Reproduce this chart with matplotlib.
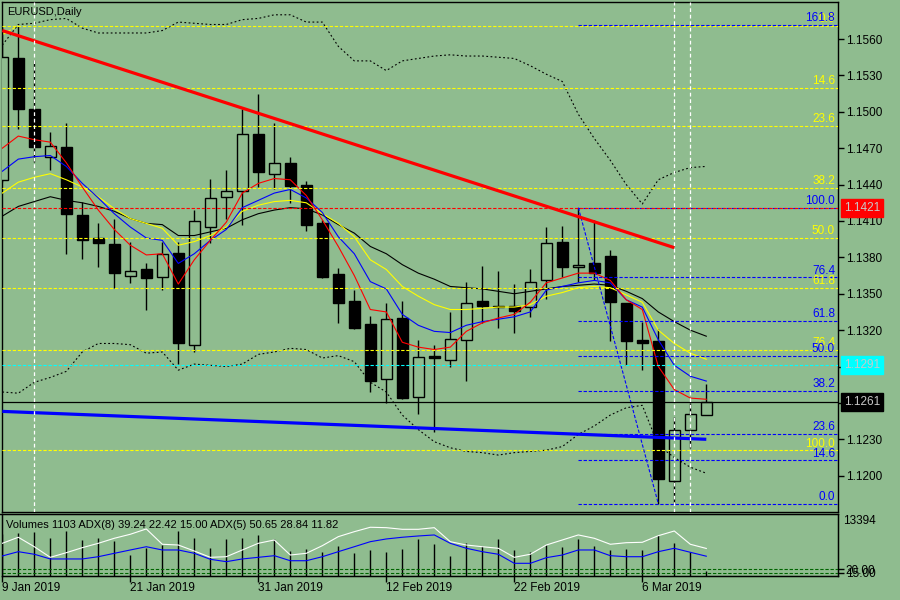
import numpy as np
import pandas as pd
import matplotlib
matplotlib.use('Agg')
import matplotlib.pyplot as plt
import matplotlib.transforms as mtrans

BG = '#8FBC8F'
plt.rcParams['font.family'] = ['Liberation Sans', 'DejaVu Sans']

# EURUSD daily, 9 Jan - 12 Mar 2019
dates = pd.bdate_range('2019-01-09', '2019-03-12')

opens = [1.1444, 1.1544, 1.1502, 1.1463, 1.1471, 1.1415, 1.1396, 1.1391, 1.1365, 1.1370,
         1.1364, 1.1384, 1.1308, 1.1405, 1.1430, 1.1435, 1.1482, 1.1449, 1.1458, 1.1440,
         1.1408, 1.1366, 1.1344, 1.1325, 1.1280, 1.1330, 1.1265, 1.1299, 1.1295, 1.1312,
         1.1344, 1.1340, 1.1340, 1.1339, 1.1361, 1.1393, 1.1372, 1.1375, 1.1381, 1.1342,
         1.1312, 1.1311, 1.1196, 1.1238, 1.1250]
highs = [1.1570, 1.1571, 1.1543, 1.1483, 1.1491, 1.1426, 1.1408, 1.1412, 1.1393, 1.1375,
         1.1393, 1.1393, 1.1419, 1.1445, 1.1452, 1.1502, 1.1515, 1.1491, 1.1463, 1.1443,
         1.1411, 1.1371, 1.1353, 1.1332, 1.1342, 1.1344, 1.1312, 1.1308, 1.1335, 1.1360,
         1.1373, 1.1369, 1.1358, 1.1370, 1.1405, 1.1406, 1.1421, 1.1411, 1.1386, 1.1342,
         1.1327, 1.1321, 1.1248, 1.1260, 1.1276]
lows = [1.1442, 1.1486, 1.1459, 1.1452, 1.1383, 1.1379, 1.1372, 1.1355, 1.1359, 1.1337,
        1.1353, 1.1292, 1.1302, 1.1392, 1.1412, 1.1407, 1.1438, 1.1436, 1.1425, 1.1402,
        1.1363, 1.1326, 1.1321, 1.1269, 1.1260, 1.1263, 1.1251, 1.1236, 1.1290, 1.1278,
        1.1326, 1.1322, 1.1318, 1.1331, 1.1346, 1.1364, 1.1360, 1.1361, 1.1311, 1.1291,
        1.1287, 1.1177, 1.1177, 1.1223, 1.1250]
closes = [1.1545, 1.1502, 1.1471, 1.1472, 1.1416, 1.1394, 1.1392, 1.1367, 1.1369, 1.1363,
          1.1383, 1.1309, 1.1410, 1.1429, 1.1435, 1.1482, 1.1450, 1.1458, 1.1439, 1.1407,
          1.1364, 1.1342, 1.1322, 1.1278, 1.1329, 1.1264, 1.1298, 1.1297, 1.1313, 1.1342,
          1.1340, 1.1339, 1.1336, 1.1360, 1.1392, 1.1372, 1.1374, 1.1367, 1.1343, 1.1311,
          1.1309, 1.1197, 1.1238, 1.1251, 1.1261]

ma_red = [1.1470, 1.1480, 1.1477, 1.1475, 1.1458, 1.1438, 1.1419, 1.1403, 1.1390, 1.1382,
          1.1383, 1.1358, 1.1378, 1.1394, 1.1409, 1.1433, 1.1441, 1.1445, 1.1444, 1.1431,
          1.1411, 1.1389, 1.1365, 1.1337, 1.1335, 1.1310, 1.1306, 1.1304, 1.1306, 1.1319,
          1.1326, 1.1330, 1.1333, 1.1343, 1.1359, 1.1363, 1.1367, 1.1367, 1.1361, 1.1345,
          1.1337, 1.1290, 1.1271, 1.1264, 1.1263]
ma_blue = [1.1451, 1.1461, 1.1463, 1.1464, 1.1455, 1.1441, 1.1429, 1.1416, 1.1405, 1.1396,
           1.1394, 1.1375, 1.1383, 1.1394, 1.1403, 1.1421, 1.1427, 1.1433, 1.1436, 1.1429,
           1.1417, 1.1397, 1.1383, 1.1360, 1.1354, 1.1333, 1.1324, 1.1319, 1.1318, 1.1324,
           1.1327, 1.1329, 1.1331, 1.1335, 1.1353, 1.1356, 1.1359, 1.1361, 1.1359, 1.1345,
           1.1339, 1.1312, 1.1291, 1.1282, 1.1278]
ma_yellow = [1.1433, 1.1442, 1.1446, 1.1449, 1.1444, 1.1438, 1.1430, 1.1420, 1.1412, 1.1408,
             1.1404, 1.1390, 1.1393, 1.1398, 1.1405, 1.1418, 1.1423, 1.1426, 1.1427, 1.1425,
             1.1416, 1.1408, 1.1397, 1.1378, 1.1370, 1.1356, 1.1348, 1.1341, 1.1337, 1.1337,
             1.1338, 1.1339, 1.1339, 1.1341, 1.1348, 1.1351, 1.1355, 1.1356, 1.1355, 1.1349,
             1.1343, 1.1320, 1.1309, 1.1301, 1.1296]
ma_black = [1.1414, 1.1422, 1.1426, 1.1430, 1.1427, 1.1425, 1.1422, 1.1418, 1.1412, 1.1408,
            1.1407, 1.1398, 1.1398, 1.1401, 1.1404, 1.1411, 1.1416, 1.1419, 1.1421, 1.1420,
            1.1415, 1.1407, 1.1400, 1.1389, 1.1383, 1.1374, 1.1367, 1.1362, 1.1356, 1.1355,
            1.1354, 1.1352, 1.1350, 1.1352, 1.1354, 1.1356, 1.1357, 1.1358, 1.1357, 1.1352,
            1.1346, 1.1335, 1.1327, 1.1320, 1.1315]
bb_upper = [1.1555, 1.1572, 1.1573, 1.1576, 1.1577, 1.1569, 1.1565, 1.1565, 1.1565, 1.1565,
            1.1567, 1.1574, 1.1573, 1.1572, 1.1572, 1.1576, 1.1577, 1.1580, 1.1580, 1.1574,
            1.1574, 1.1554, 1.1542, 1.1542, 1.1534, 1.1542, 1.1544, 1.1546, 1.1547, 1.1546,
            1.1546, 1.1545, 1.1544, 1.1538, 1.1531, 1.1525, 1.1498, 1.1478, 1.1460, 1.1440,
            1.1424, 1.1444, 1.1450, 1.1454, 1.1455]
bb_lower = [1.1269, 1.1268, 1.1277, 1.1281, 1.1286, 1.1302, 1.1309, 1.1309, 1.1308, 1.1301,
            1.1302, 1.1287, 1.1292, 1.1291, 1.1290, 1.1292, 1.1300, 1.1302, 1.1305, 1.1304,
            1.1297, 1.1299, 1.1294, 1.1277, 1.1269, 1.1250, 1.1238, 1.1228, 1.1223, 1.1220,
            1.1219, 1.1217, 1.1219, 1.1220, 1.1221, 1.1224, 1.1234, 1.1241, 1.1250, 1.1256,
            1.1258, 1.1225, 1.1215, 1.1207, 1.1202]

volumes = [9000, 9225, 9570, 8144, 9721, 7777, 8144, 7561, 4537, 5984,
           6697, 9721, 8274, 6114, 7928, 8144, 8857, 7928, 5401, 5768,
           5250, 6481, 4904, 5617, 5250, 5768, 7928, 6913, 4321, 7194,
           6546, 7993, 5617, 5120, 6697, 6330, 7993, 6481, 5617, 5833,
           5617, 8857, 7064, 5250, 1103]
adx5 = [58.2, 67.1, 53.2, 37.6, 44.4, 51.8, 58.2, 65.6, 71.5, 79.3,
        56.8, 55.7, 46.9, 37.6, 38.5, 48.4, 58.2, 63.1, 41.0, 43.5,
        54.7, 68.0, 75.3, 81.8, 81.2, 78.8, 78.8, 81.2, 60.6, 55.7,
        53.2, 50.9, 37.6, 42.1, 55.7, 63.1, 70.5, 65.6, 56.8, 59.1,
        59.7, 69.4, 76.3, 56.8, 50.65]
adx8 = [39.6, 45.9, 42.1, 35.2, 35.2, 35.2, 38.5, 43.5, 48.4, 53.2,
        48.4, 48.4, 43.5, 34.7, 31.2, 35.2, 37.6, 40.0, 32.6, 32.6,
        38.5, 45.9, 53.2, 60.6, 64.6, 67.1, 69.0, 70.5, 58.2, 50.9,
        45.9, 42.1, 28.8, 28.8, 37.1, 41.0, 48.4, 48.4, 40.0, 38.5,
        38.5, 45.9, 50.9, 45.0, 39.24]
adx_levels = [20.0, 15.0]
vol_max = 13394

# drawn objects
red_trend = ([0, 42], [1.1567, 1.1388])
blue_trend = ([0, 44], [1.1253, 1.1230])
fib_levels = [0.0, 14.6, 23.6, 38.2, 50.0, 61.8, 76.4, 100.0, 161.8]
yellow_fib = ([-46, 1], [1.1221, 1.1571])   # (100%, 0%)
blue_fib = ([36, 41], [1.1421, 1.1177])
vlines_at = [2, 42, 43]
price_marks = [(1.1421, 'red'), (1.1291, 'cyan'), (1.1261, 'black')]
title = 'EURUSD,Daily'
ind_title = 'Volumes 1103 ADX(8) 39.24 22.42 15.00 ADX(5) 50.65 28.84 11.82'

W, H = 900.0, 600.0
fig = plt.figure(figsize=(9, 6), dpi=100, facecolor=BG)
ax = fig.add_axes([2 / W, 1 - 511.7 / H, 836 / W, 509.4 / H], facecolor=BG)
axv = fig.add_axes([2 / W, 1 - 576 / H, 836 / W, 62 / H], facecolor=BG)

x = np.arange(len(closes))
o, h, l, c = (np.array(a) for a in (opens, highs, lows, closes))
up = c >= o
xlim = (-0.3 / 16, (838 - 2.3) / 16)

# candles
ax.vlines(x, l, h, color='black', lw=1, zorder=2)
ax.bar(x[up], np.maximum(c[up] - o[up], 0.00002), bottom=o[up], width=0.66,
       facecolor=BG, edgecolor='black', lw=1, zorder=3)
ax.bar(x[~up], np.maximum(o[~up] - c[~up], 0.00002), bottom=c[~up], width=0.66,
       facecolor='black', edgecolor='black', lw=1, zorder=3)

# indicators
dot = (0, (1.6, 2.2))
ax.plot(x, bb_upper, color='black', lw=0.8, ls=dot, zorder=4)
ax.plot(x, bb_lower, color='black', lw=0.8, ls=dot, zorder=4)
ax.plot(x, ma_black, color='black', lw=0.8, zorder=4)
ax.plot(x, ma_yellow, color='#FFFF00', lw=0.8, zorder=4)
ax.plot(x, ma_blue, color='#0000FF', lw=0.8, zorder=4)
ax.plot(x, ma_red, color='#FF0000', lw=0.8, zorder=4)

dash = (0, (3, 1.6))
blend = mtrans.blended_transform_factory(ax.transAxes, ax.transData)
ylim = (1.11703, 1.15903)

# fibonacci retracements
def draw_fib(fx, fy, color, full):
    p100, p0 = fy[0], fy[1]
    ax.plot(fx, fy, color=color, lw=0.8, ls=dash, zorder=5)
    x0 = xlim[0] if full else fx[0]
    for lv in fib_levels:
        p = p0 + (p100 - p0) * lv / 100.0
        if not (ylim[0] < p < ylim[1]):
            continue
        ax.plot([x0, xlim[1]], [p, p], color=color, lw=0.8, ls=dash, zorder=5)
        ax.annotate('%.1f' % lv, xy=(0.9964, p), xycoords=blend, xytext=(0, 0.4),
                    textcoords='offset points', ha='right', va='bottom',
                    fontsize=8.5, color=color, zorder=6)

draw_fib(*yellow_fib, color='#FFFF00', full=True)
draw_fib(*blue_fib, color='#0000FF', full=False)

# trend lines
ax.plot(*red_trend, color='#FF0000', lw=2.3, zorder=5, solid_capstyle='butt')
ax.plot(*blue_trend, color='#0000FF', lw=2.3, zorder=5, solid_capstyle='butt')

# horizontal / vertical marker lines
ax.axhline(1.1421, color='#FF0000', lw=0.8, ls=dash, zorder=5)
ax.axhline(1.1291, color='#00FFFF', lw=0.8, ls=dash, zorder=5)
ax.axhline(1.1261, color='black', lw=0.9, zorder=5)
for v in vlines_at:
    ax.axvline(v, color='white', lw=0.9, ls=(0, (3, 2.2)), zorder=5)

ax.set_xlim(*xlim)
ax.set_ylim(*ylim)
yt = np.round(np.arange(1.1200, 1.15601, 0.003), 4)
ax.yaxis.tick_right()
ax.set_yticks(yt)
ax.set_yticklabels(['' if round(t, 4) in (1.1290, 1.1260) else '%.4f' % t for t in yt])
ax.tick_params(axis='y', direction='out', length=4, width=1, pad=1.5,
               labelsize=8.5, colors='black')
ax.tick_params(axis='x', bottom=False, labelbottom=False)
for s in ax.spines.values():
    s.set_color('black')
    s.set_linewidth(1)

for price, col in price_marks:
    ax.text(1.0 + 6 / 836, price, '%.4f' % price, transform=blend, ha='left',
            va='center', fontsize=8.5, color='#C8C8C8', clip_on=False, zorder=10,
            bbox=dict(boxstyle='square,pad=0.25', fc=col, ec=col))

fig.text(7 / W, 1 - 12 / H, title, fontsize=8, va='center', color='black')

# volume / ADX sub window
axv.vlines(x, 0, volumes, color='black', lw=1, zorder=2)
axv.set_xlim(*xlim)
axv.set_ylim(0, vol_max)
axv.yaxis.tick_right()
axv.set_yticks([vol_max])
axv.set_yticklabels([])
axv.tick_params(axis='y', direction='out', length=4, width=1)
tick_idx = list(range(0, len(dates), 8))
axv.set_xticks(tick_idx)
axv.set_xticklabels(['%d %s' % (dates[i].day, dates[i].strftime('%b %Y')) for i in tick_idx],
                    ha='left')
axv.tick_params(axis='x', direction='out', length=4, width=1, pad=0.5, labelsize=8.5)
for s in axv.spines.values():
    s.set_color('black')
    s.set_linewidth(1)

adx = axv.twinx()
adx.set_ylim(10.14, 101.3)
adx.plot(x, adx5, color='white', lw=0.8, zorder=3)
adx.plot(x, adx8, color='#0000FF', lw=0.8, zorder=3)
for lv in adx_levels:
    adx.axhline(lv, color='#006400', lw=0.8, ls=dash)
adx.set_yticks(adx_levels)
adx.set_yticklabels(['%.2f' % v for v in adx_levels])
adx.tick_params(axis='y', direction='out', length=4, width=1, pad=1.5, labelsize=8.5)
adx.set_xlim(*xlim)

fig.text(843 / W, 1 - 521 / H, str(vol_max), fontsize=8.5, va='center', color='black')
fig.text(6 / W, 1 - 524.5 / H, ind_title, fontsize=8, va='center', color='black')

fig.savefig('out.png', dpi=100, facecolor=BG)
